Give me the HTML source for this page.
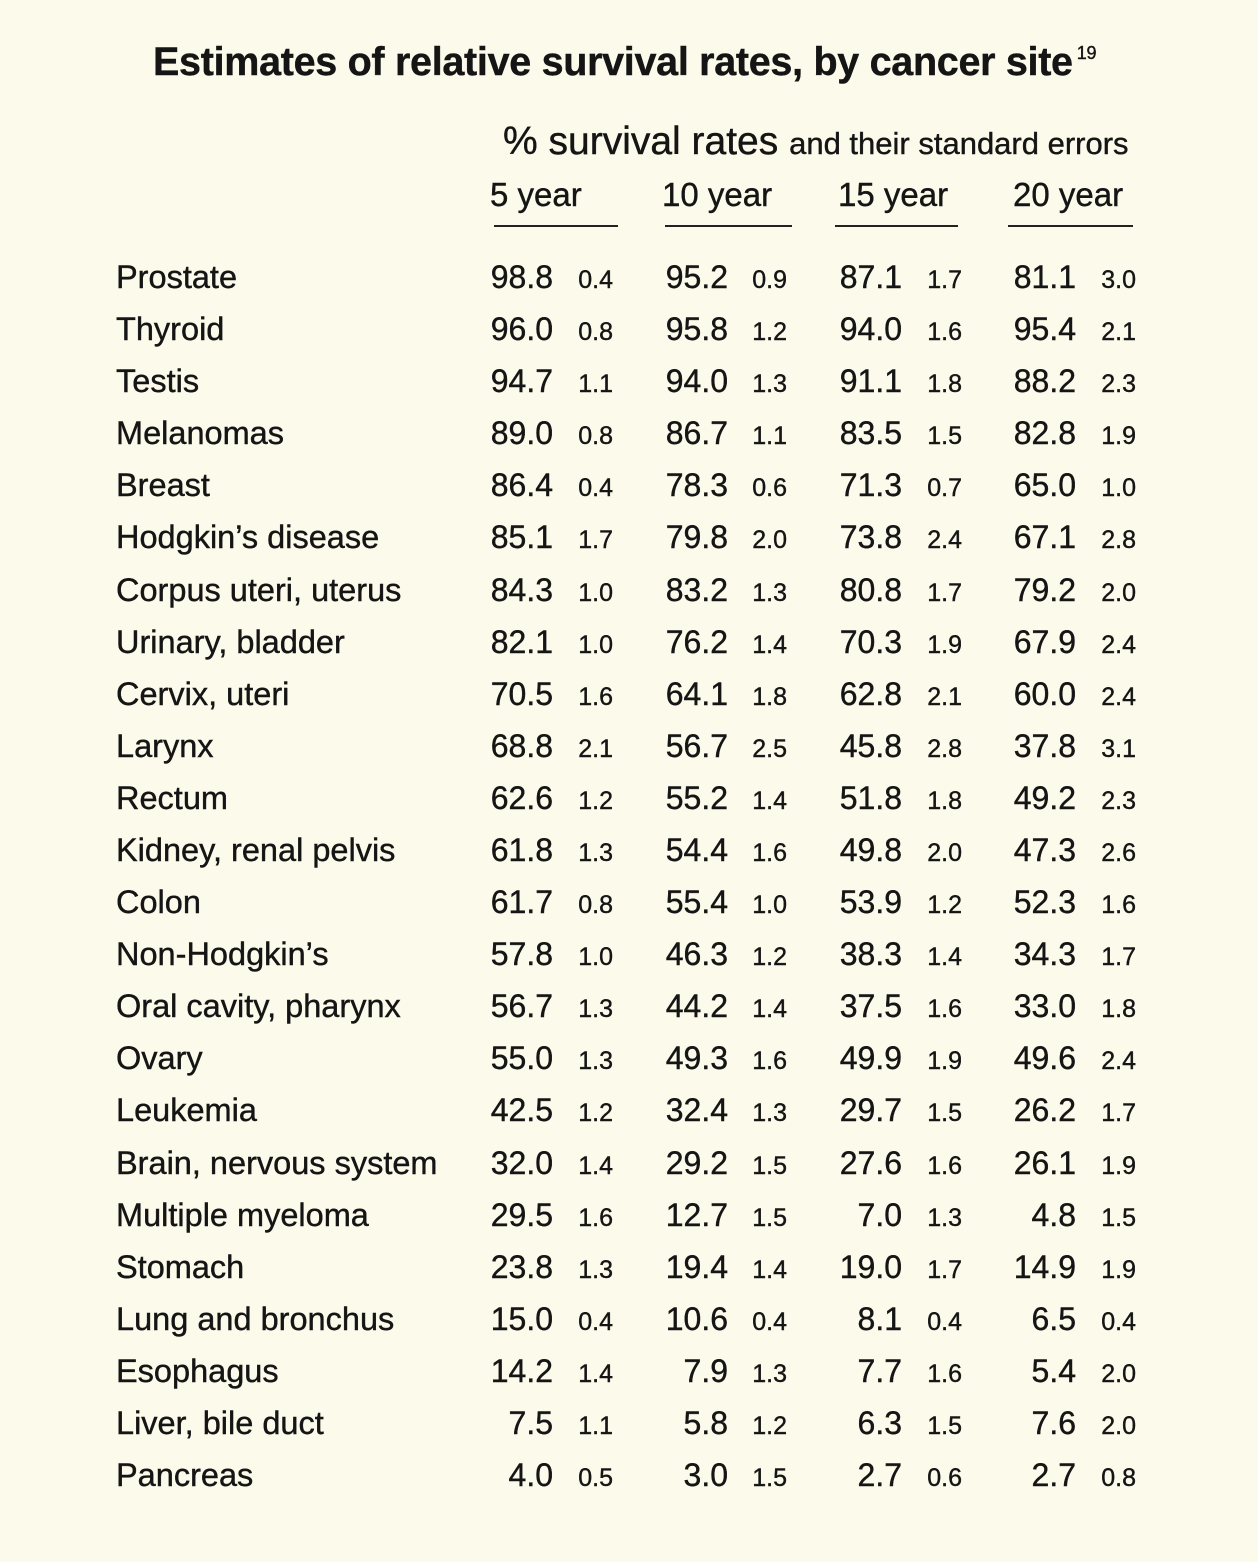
<!DOCTYPE html>
<html><head><meta charset="utf-8"><style>
body{margin:0;background:#fcfaea;}
#p{position:relative;width:1258px;height:1562px;background:#fcfaea;color:#151515;font-family:"Liberation Sans",sans-serif;overflow:hidden;-webkit-text-stroke:0.4px #151515}
.t{position:absolute;white-space:nowrap}
.r{position:absolute;left:0;width:1258px;height:40px;line-height:40px}
.r span{position:absolute;top:0;white-space:nowrap}
.l{left:116px;font-size:32.5px}
.m,.s{width:100px;text-align:right}
.m{font-size:32px}
.s{font-size:25px;top:3px!important}
.a1{left:453px}.b1{left:513px}
.a2{left:628px}.b2{left:687px}
.a3{left:802px}.b3{left:862px}
.a4{left:976px}.b4{left:1036px}
.u{position:absolute;top:225px;height:2px;background:#222}
</style></head><body><div id="p">
<div class="t" style="left:153px;top:40px;font-size:39.5px;font-weight:bold;letter-spacing:-0.3px">Estimates of relative survival rates, by cancer site<sup style="font-size:18px;font-weight:normal;vertical-align:16px;margin-left:4px">19</sup></div>
<div class="t" style="left:503px;top:120px;font-size:39px">% survival rates <span style="font-size:31px">and their standard errors</span></div>
<div class="t" style="left:490px;top:176px;font-size:33px">5 year</div>
<div class="t" style="left:662px;top:176px;font-size:33px">10 year</div>
<div class="t" style="left:838px;top:176px;font-size:33px">15 year</div>
<div class="t" style="left:1013px;top:176px;font-size:33px">20 year</div>
<div class="u" style="left:494px;width:124px"></div>
<div class="u" style="left:665px;width:127px"></div>
<div class="u" style="left:835px;width:123px"></div>
<div class="u" style="left:1008px;width:125px"></div>

<div class="r" style="top:257px"><span class="l">Prostate</span><span class="m a1">98.8</span><span class="s b1">0.4</span><span class="m a2">95.2</span><span class="s b2">0.9</span><span class="m a3">87.1</span><span class="s b3">1.7</span><span class="m a4">81.1</span><span class="s b4">3.0</span></div>
<div class="r" style="top:309px"><span class="l">Thyroid</span><span class="m a1">96.0</span><span class="s b1">0.8</span><span class="m a2">95.8</span><span class="s b2">1.2</span><span class="m a3">94.0</span><span class="s b3">1.6</span><span class="m a4">95.4</span><span class="s b4">2.1</span></div>
<div class="r" style="top:361px"><span class="l">Testis</span><span class="m a1">94.7</span><span class="s b1">1.1</span><span class="m a2">94.0</span><span class="s b2">1.3</span><span class="m a3">91.1</span><span class="s b3">1.8</span><span class="m a4">88.2</span><span class="s b4">2.3</span></div>
<div class="r" style="top:413px"><span class="l">Melanomas</span><span class="m a1">89.0</span><span class="s b1">0.8</span><span class="m a2">86.7</span><span class="s b2">1.1</span><span class="m a3">83.5</span><span class="s b3">1.5</span><span class="m a4">82.8</span><span class="s b4">1.9</span></div>
<div class="r" style="top:465px"><span class="l">Breast</span><span class="m a1">86.4</span><span class="s b1">0.4</span><span class="m a2">78.3</span><span class="s b2">0.6</span><span class="m a3">71.3</span><span class="s b3">0.7</span><span class="m a4">65.0</span><span class="s b4">1.0</span></div>
<div class="r" style="top:517px"><span class="l">Hodgkin’s disease</span><span class="m a1">85.1</span><span class="s b1">1.7</span><span class="m a2">79.8</span><span class="s b2">2.0</span><span class="m a3">73.8</span><span class="s b3">2.4</span><span class="m a4">67.1</span><span class="s b4">2.8</span></div>
<div class="r" style="top:570px"><span class="l">Corpus uteri, uterus</span><span class="m a1">84.3</span><span class="s b1">1.0</span><span class="m a2">83.2</span><span class="s b2">1.3</span><span class="m a3">80.8</span><span class="s b3">1.7</span><span class="m a4">79.2</span><span class="s b4">2.0</span></div>
<div class="r" style="top:622px"><span class="l">Urinary, bladder</span><span class="m a1">82.1</span><span class="s b1">1.0</span><span class="m a2">76.2</span><span class="s b2">1.4</span><span class="m a3">70.3</span><span class="s b3">1.9</span><span class="m a4">67.9</span><span class="s b4">2.4</span></div>
<div class="r" style="top:674px"><span class="l">Cervix, uteri</span><span class="m a1">70.5</span><span class="s b1">1.6</span><span class="m a2">64.1</span><span class="s b2">1.8</span><span class="m a3">62.8</span><span class="s b3">2.1</span><span class="m a4">60.0</span><span class="s b4">2.4</span></div>
<div class="r" style="top:726px"><span class="l">Larynx</span><span class="m a1">68.8</span><span class="s b1">2.1</span><span class="m a2">56.7</span><span class="s b2">2.5</span><span class="m a3">45.8</span><span class="s b3">2.8</span><span class="m a4">37.8</span><span class="s b4">3.1</span></div>
<div class="r" style="top:778px"><span class="l">Rectum</span><span class="m a1">62.6</span><span class="s b1">1.2</span><span class="m a2">55.2</span><span class="s b2">1.4</span><span class="m a3">51.8</span><span class="s b3">1.8</span><span class="m a4">49.2</span><span class="s b4">2.3</span></div>
<div class="r" style="top:830px"><span class="l">Kidney, renal pelvis</span><span class="m a1">61.8</span><span class="s b1">1.3</span><span class="m a2">54.4</span><span class="s b2">1.6</span><span class="m a3">49.8</span><span class="s b3">2.0</span><span class="m a4">47.3</span><span class="s b4">2.6</span></div>
<div class="r" style="top:882px"><span class="l">Colon</span><span class="m a1">61.7</span><span class="s b1">0.8</span><span class="m a2">55.4</span><span class="s b2">1.0</span><span class="m a3">53.9</span><span class="s b3">1.2</span><span class="m a4">52.3</span><span class="s b4">1.6</span></div>
<div class="r" style="top:934px"><span class="l">Non-Hodgkin’s</span><span class="m a1">57.8</span><span class="s b1">1.0</span><span class="m a2">46.3</span><span class="s b2">1.2</span><span class="m a3">38.3</span><span class="s b3">1.4</span><span class="m a4">34.3</span><span class="s b4">1.7</span></div>
<div class="r" style="top:986px"><span class="l">Oral cavity, pharynx</span><span class="m a1">56.7</span><span class="s b1">1.3</span><span class="m a2">44.2</span><span class="s b2">1.4</span><span class="m a3">37.5</span><span class="s b3">1.6</span><span class="m a4">33.0</span><span class="s b4">1.8</span></div>
<div class="r" style="top:1038px"><span class="l">Ovary</span><span class="m a1">55.0</span><span class="s b1">1.3</span><span class="m a2">49.3</span><span class="s b2">1.6</span><span class="m a3">49.9</span><span class="s b3">1.9</span><span class="m a4">49.6</span><span class="s b4">2.4</span></div>
<div class="r" style="top:1090px"><span class="l">Leukemia</span><span class="m a1">42.5</span><span class="s b1">1.2</span><span class="m a2">32.4</span><span class="s b2">1.3</span><span class="m a3">29.7</span><span class="s b3">1.5</span><span class="m a4">26.2</span><span class="s b4">1.7</span></div>
<div class="r" style="top:1143px"><span class="l">Brain, nervous system</span><span class="m a1">32.0</span><span class="s b1">1.4</span><span class="m a2">29.2</span><span class="s b2">1.5</span><span class="m a3">27.6</span><span class="s b3">1.6</span><span class="m a4">26.1</span><span class="s b4">1.9</span></div>
<div class="r" style="top:1195px"><span class="l">Multiple myeloma</span><span class="m a1">29.5</span><span class="s b1">1.6</span><span class="m a2">12.7</span><span class="s b2">1.5</span><span class="m a3">7.0</span><span class="s b3">1.3</span><span class="m a4">4.8</span><span class="s b4">1.5</span></div>
<div class="r" style="top:1247px"><span class="l">Stomach</span><span class="m a1">23.8</span><span class="s b1">1.3</span><span class="m a2">19.4</span><span class="s b2">1.4</span><span class="m a3">19.0</span><span class="s b3">1.7</span><span class="m a4">14.9</span><span class="s b4">1.9</span></div>
<div class="r" style="top:1299px"><span class="l">Lung and bronchus</span><span class="m a1">15.0</span><span class="s b1">0.4</span><span class="m a2">10.6</span><span class="s b2">0.4</span><span class="m a3">8.1</span><span class="s b3">0.4</span><span class="m a4">6.5</span><span class="s b4">0.4</span></div>
<div class="r" style="top:1351px"><span class="l">Esophagus</span><span class="m a1">14.2</span><span class="s b1">1.4</span><span class="m a2">7.9</span><span class="s b2">1.3</span><span class="m a3">7.7</span><span class="s b3">1.6</span><span class="m a4">5.4</span><span class="s b4">2.0</span></div>
<div class="r" style="top:1403px"><span class="l">Liver, bile duct</span><span class="m a1">7.5</span><span class="s b1">1.1</span><span class="m a2">5.8</span><span class="s b2">1.2</span><span class="m a3">6.3</span><span class="s b3">1.5</span><span class="m a4">7.6</span><span class="s b4">2.0</span></div>
<div class="r" style="top:1455px"><span class="l">Pancreas</span><span class="m a1">4.0</span><span class="s b1">0.5</span><span class="m a2">3.0</span><span class="s b2">1.5</span><span class="m a3">2.7</span><span class="s b3">0.6</span><span class="m a4">2.7</span><span class="s b4">0.8</span></div>
</div></body></html>
